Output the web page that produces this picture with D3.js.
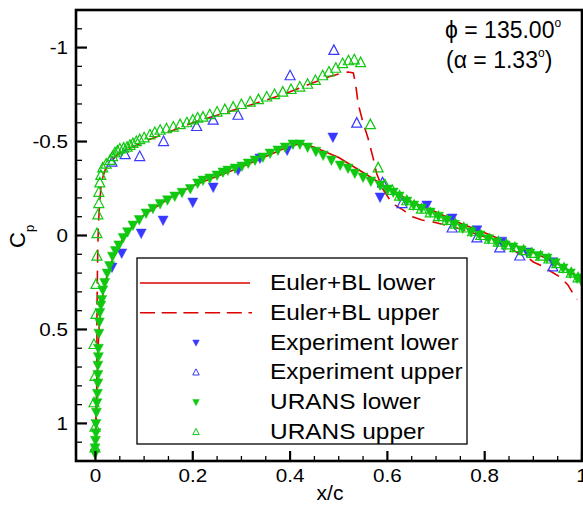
<!DOCTYPE html>
<html><head><meta charset="utf-8">
<script src="https://cdn.jsdelivr.net/npm/d3@7"></script>
<style>body{margin:0;background:#fff}svg{display:block}text{font-family:"Liberation Sans",Arial,sans-serif;fill:#000}</style>
</head><body><div id="chart"></div>
<script>
// ---- data ----
const eulerLower = [[0.0,1.15],[0.001,0.95],[0.003,0.8],[0.005,0.62],[0.008,0.46],[0.012,0.36],[0.02,0.25],[0.03,0.16],[0.045,0.07],[0.06,0.0],[0.08,-0.06],[0.1,-0.11],[0.15,-0.195],[0.2,-0.265],[0.25,-0.315],[0.3,-0.365],[0.35,-0.42],[0.39,-0.465],[0.42,-0.49],[0.45,-0.47],[0.5,-0.415],[0.55,-0.335],[0.6,-0.255],[0.65,-0.18],[0.7,-0.125],[0.75,-0.065],[0.8,-0.015],[0.85,0.04],[0.9,0.09],[0.95,0.15],[0.98,0.2],[1.0,0.24]];
const eulerUpper = [[0.0,1.15],[0.002,0.95],[0.003,0.7],[0.003,0.45],[0.004,0.2],[0.005,0.05],[0.006,-0.05],[0.008,-0.15],[0.011,-0.25],[0.015,-0.31],[0.02,-0.35],[0.03,-0.39],[0.045,-0.43],[0.06,-0.455],[0.08,-0.475],[0.1,-0.5],[0.13,-0.53],[0.16,-0.56],[0.2,-0.6],[0.25,-0.64],[0.3,-0.68],[0.35,-0.72],[0.4,-0.765],[0.45,-0.815],[0.48,-0.845],[0.5,-0.86],[0.52,-0.87],[0.53,-0.865],[0.535,-0.8],[0.54,-0.7],[0.55,-0.6],[0.56,-0.52],[0.57,-0.42],[0.578,-0.33],[0.59,-0.25],[0.605,-0.19],[0.616,-0.162],[0.632,-0.136],[0.653,-0.098],[0.671,-0.082],[0.694,-0.072],[0.72,-0.055],[0.75,-0.035],[0.78,-0.01],[0.81,0.015],[0.84,0.045],[0.868,0.093],[0.887,0.114],[0.9,0.141],[0.918,0.162],[0.938,0.194],[0.955,0.221],[0.971,0.263],[0.981,0.306],[0.99,0.34]];
const expLower = [[0.034,0.168],[0.054,0.093],[0.094,-0.013],[0.139,-0.082],[0.2,-0.178],[0.242,-0.258],[0.293,-0.348],[0.338,-0.412],[0.394,-0.455],[0.488,-0.524],[0.585,-0.205],[0.681,-0.162],[0.733,-0.093],[0.784,-0.03],[0.835,0.03],[0.887,0.088],[0.94,0.14]];
const expUpper = [[0.034,-0.39],[0.061,-0.43],[0.091,-0.42],[0.14,-0.5],[0.208,-0.58],[0.242,-0.614],[0.293,-0.64],[0.4,-0.85],[0.49,-0.985],[0.537,-0.598],[0.59,-0.28],[0.63,-0.17],[0.733,-0.04],[0.784,0.013],[0.831,0.066],[0.872,0.109],[0.94,0.167]];
const uransLower = [[-0.001,1.16],[-0.001,1.13],[0.0,1.09],[0.001,1.05],[0.001,1.0],[0.002,0.94],[0.003,0.89],[0.004,0.84],[0.005,0.785],[0.005,0.74],[0.005,0.69],[0.006,0.645],[0.006,0.6],[0.007,0.52],[0.008,0.46],[0.009,0.41],[0.011,0.37],[0.013,0.34],[0.015,0.29],[0.019,0.25],[0.024,0.2],[0.029,0.16],[0.035,0.11],[0.041,0.08],[0.048,0.05],[0.057,0.01],[0.066,-0.02],[0.077,-0.056],[0.09,-0.085],[0.104,-0.12],[0.118,-0.145],[0.133,-0.17],[0.148,-0.19],[0.163,-0.21],[0.178,-0.23],[0.195,-0.25],[0.21,-0.28],[0.221,-0.295],[0.235,-0.306],[0.25,-0.322],[0.262,-0.338],[0.272,-0.348],[0.287,-0.359],[0.301,-0.37],[0.314,-0.386],[0.328,-0.402],[0.344,-0.418],[0.359,-0.439],[0.375,-0.455],[0.39,-0.471],[0.406,-0.487],[0.42,-0.487],[0.436,-0.471],[0.453,-0.449],[0.468,-0.428],[0.485,-0.402],[0.503,-0.375],[0.519,-0.359],[0.533,-0.332],[0.55,-0.311],[0.566,-0.29],[0.585,-0.269],[0.599,-0.247],[0.612,-0.231],[0.624,-0.21],[0.64,-0.183],[0.654,-0.162],[0.67,-0.145],[0.688,-0.125],[0.705,-0.103],[0.722,-0.082],[0.738,-0.06],[0.755,-0.04],[0.772,-0.02],[0.79,-0.003],[0.808,0.017],[0.825,0.035],[0.842,0.05],[0.858,0.061],[0.875,0.077],[0.893,0.093],[0.91,0.107],[0.928,0.12],[0.945,0.145],[0.961,0.173],[0.976,0.2],[0.99,0.226],[1.0,0.247]];
const uransUpper = [[-0.001,1.13],[-0.001,1.02],[-0.003,0.89],[-0.001,0.75],[-0.003,0.58],[0.001,0.42],[0.001,0.26],[0.003,0.11],[0.003,-0.01],[0.005,-0.11],[0.007,-0.17],[0.007,-0.23],[0.009,-0.28],[0.011,-0.32],[0.015,-0.36],[0.022,-0.38],[0.03,-0.4],[0.035,-0.42],[0.04,-0.44],[0.045,-0.45],[0.05,-0.46],[0.058,-0.465],[0.065,-0.47],[0.071,-0.48],[0.077,-0.49],[0.084,-0.5],[0.091,-0.51],[0.1,-0.52],[0.112,-0.535],[0.122,-0.548],[0.133,-0.56],[0.146,-0.568],[0.16,-0.577],[0.174,-0.59],[0.188,-0.6],[0.2,-0.615],[0.21,-0.625],[0.221,-0.63],[0.235,-0.643],[0.25,-0.657],[0.266,-0.67],[0.283,-0.683],[0.3,-0.697],[0.318,-0.71],[0.335,-0.723],[0.352,-0.737],[0.368,-0.75],[0.385,-0.763],[0.402,-0.777],[0.42,-0.79],[0.436,-0.805],[0.452,-0.825],[0.467,-0.85],[0.48,-0.87],[0.494,-0.89],[0.508,-0.915],[0.52,-0.93],[0.532,-0.935],[0.545,-0.92],[0.565,-0.59],[0.581,-0.36],[0.595,-0.27],[0.61,-0.24],[0.625,-0.21],[0.64,-0.185],[0.655,-0.16],[0.67,-0.14],[0.688,-0.12],[0.705,-0.1],[0.722,-0.08],[0.74,-0.06],[0.757,-0.04],[0.775,-0.02],[0.792,0.0],[0.81,0.02],[0.828,0.035],[0.845,0.05],[0.862,0.065],[0.88,0.08],[0.897,0.095],[0.915,0.11],[0.932,0.125],[0.948,0.15],[0.963,0.175],[0.978,0.2],[0.992,0.225]];
const xTicks = [0, 0.2, 0.4, 0.6, 0.8, 1];
const xTickLabels = ["0", "0.2", "0.4", "0.6", "0.8", "1"];
const yTicks = [-1, -0.5, 0, 0.5, 1];
const yTickLabels = ["-1", "-0.5", "0", "0.5", "1"];
const legendLabels = ["Euler+BL lower", "Euler+BL upper", "Experiment lower", "Experiment upper", "URANS lower", "URANS upper"];

// ---- layout ----
const W = 583, H = 506;
const L = 76, T = 10, R = 582, B = 461;
const RED = "#dd0000", BLUE = "#3838ff", GREEN = "#10c810";

const svg = d3.select("#chart").append("svg").attr("width", W).attr("height", H);
const x = d3.scaleLinear().domain([-0.04, 1.0]).range([L, R]);
const y = d3.scaleLinear().domain([-1.2, 1.2]).range([T, B]);

svg.append("clipPath").attr("id", "clip").append("rect")
  .attr("x", L).attr("y", T).attr("width", R - L).attr("height", B - T);
const plot = svg.append("g").attr("clip-path", "url(#clip)");

const line = d3.line().x(d => x(d[0])).y(d => y(d[1]));
const triUp = s => `M0,${-s*0.55}L${s*0.5},${s*0.4}L${-s*0.5},${s*0.4}Z`;
const triDown = s => `M0,${s*0.55}L${s*0.5},${-s*0.4}L${-s*0.5},${-s*0.4}Z`;

plot.append("path").attr("d", line(eulerLower)).attr("fill", "none").attr("stroke", RED).attr("stroke-width", 1.6);
plot.append("path").attr("d", line(eulerUpper)).attr("fill", "none").attr("stroke", RED).attr("stroke-width", 1.6).attr("stroke-dasharray", "13,8");

function markers(data, filled, color, s) {
  plot.append("g").selectAll("path").data(data).join("path")
    .attr("transform", d => `translate(${x(d[0])},${y(d[1])})`)
    .attr("d", filled ? triDown(s) : triUp(s))
    .attr("fill", filled ? color : "none")
    .attr("stroke", color).attr("stroke-width", filled ? 0.5 : 1.2);
}
markers(expLower, true, BLUE, 10);
markers(expUpper, false, BLUE, 10);
markers(uransLower, true, GREEN, 10);
markers(uransUpper, false, GREEN, 10);

// ---- axes ----
const ax = svg.append("g");
const yMinor = d3.range(-12, 13).map(i => i / 10);
ax.selectAll(".ym").data(yMinor).join("line")
  .attr("x1", L).attr("x2", d => L + (yTicks.includes(d) ? 11 : 6))
  .attr("y1", d => y(d)).attr("y2", d => y(d)).attr("stroke", "#000").attr("stroke-width", d => yTicks.includes(d) ? 2.2 : 1.3);
const xMinor = d3.range(0, 21).map(i => i / 20);
ax.selectAll(".xm").data(xMinor).join("line")
  .attr("x1", d => x(d)).attr("x2", d => x(d))
  .attr("y1", B).attr("y2", d => B - (xTicks.some(t => Math.abs(t - d) < 1e-9) ? 10 : 5))
  .attr("stroke", "#000").attr("stroke-width", d => xTicks.some(t => Math.abs(t - d) < 1e-9) ? 2.2 : 1.3);

ax.append("rect").attr("x", L).attr("y", T).attr("width", R - L).attr("height", B - T)
  .attr("fill", "none").attr("stroke", "#000").attr("stroke-width", 2.6);

yTicks.forEach((t, i) => {
  ax.append("g").attr("transform", `translate(68,${y(t)})`)
    .append("text").attr("transform", "scale(1.18,1)").attr("text-anchor", "end").attr("dy", "0.36em")
    .attr("font-size", 17.5).text(yTickLabels[i]);
});
xTicks.forEach((t, i) => {
  ax.append("g").attr("transform", `translate(${x(t)},482)`)
    .append("text").attr("transform", "scale(1.18,1)").attr("text-anchor", "middle")
    .attr("font-size", 17.5).text(xTickLabels[i]);
});

svg.append("text").attr("x", 330).attr("y", 500).attr("text-anchor", "middle").attr("font-size", 21).text("x/c");
const yl = svg.append("text").attr("transform", "translate(25,248) rotate(-90)").attr("font-size", 22);
yl.append("tspan").text("C");
yl.append("tspan").attr("font-size", 13).attr("dy", 9).text("p");

// annotation
const a1 = svg.append("text").attr("x", 445).attr("y", 38).attr("font-size", 23);
a1.append("tspan").text("\u03D5 = 135.00");
a1.append("tspan").attr("font-size", 12).attr("dy", -11).text("o");
const a2 = svg.append("text").attr("x", 446).attr("y", 68).attr("font-size", 23);
a2.append("tspan").text("(\u03B1 = 1.33");
a2.append("tspan").attr("font-size", 12).attr("dy", -11).text("o");
a2.append("tspan").attr("dy", 11).text(")");

// legend
const lg = svg.append("g");
lg.append("rect").attr("x", 137).attr("y", 258).attr("width", 330).attr("height", 186)
  .attr("fill", "#fff").attr("stroke", "#000").attr("stroke-width", 1.3);
const rowY = d3.range(6).map(i => 283 + i * 29.8);
lg.append("line").attr("x1", 140).attr("x2", 250).attr("y1", rowY[0]).attr("y2", rowY[0]).attr("stroke", RED).attr("stroke-width", 1.6);
lg.append("line").attr("x1", 140).attr("x2", 252).attr("y1", rowY[1]).attr("y2", rowY[1]).attr("stroke", RED).attr("stroke-width", 1.6).attr("stroke-dasharray", "15,6.7");
const legMk = [[true, BLUE], [false, BLUE], [true, GREEN], [false, GREEN]];
legMk.forEach((m, i) => {
  lg.append("path").attr("transform", `translate(196,${rowY[i + 2]})`)
    .attr("d", m[0] ? triDown(6.5) : triUp(6.5)).attr("fill", m[0] ? m[1] : "none")
    .attr("stroke", m[1]).attr("stroke-width", m[0] ? 0.5 : 1);
});
legendLabels.forEach((t, i) => {
  lg.append("g").attr("transform", `translate(270,${rowY[i] + 7})`)
    .append("text").attr("transform", "scale(1.11,1)").attr("font-size", 22).text(t);
});
</script></body></html>
